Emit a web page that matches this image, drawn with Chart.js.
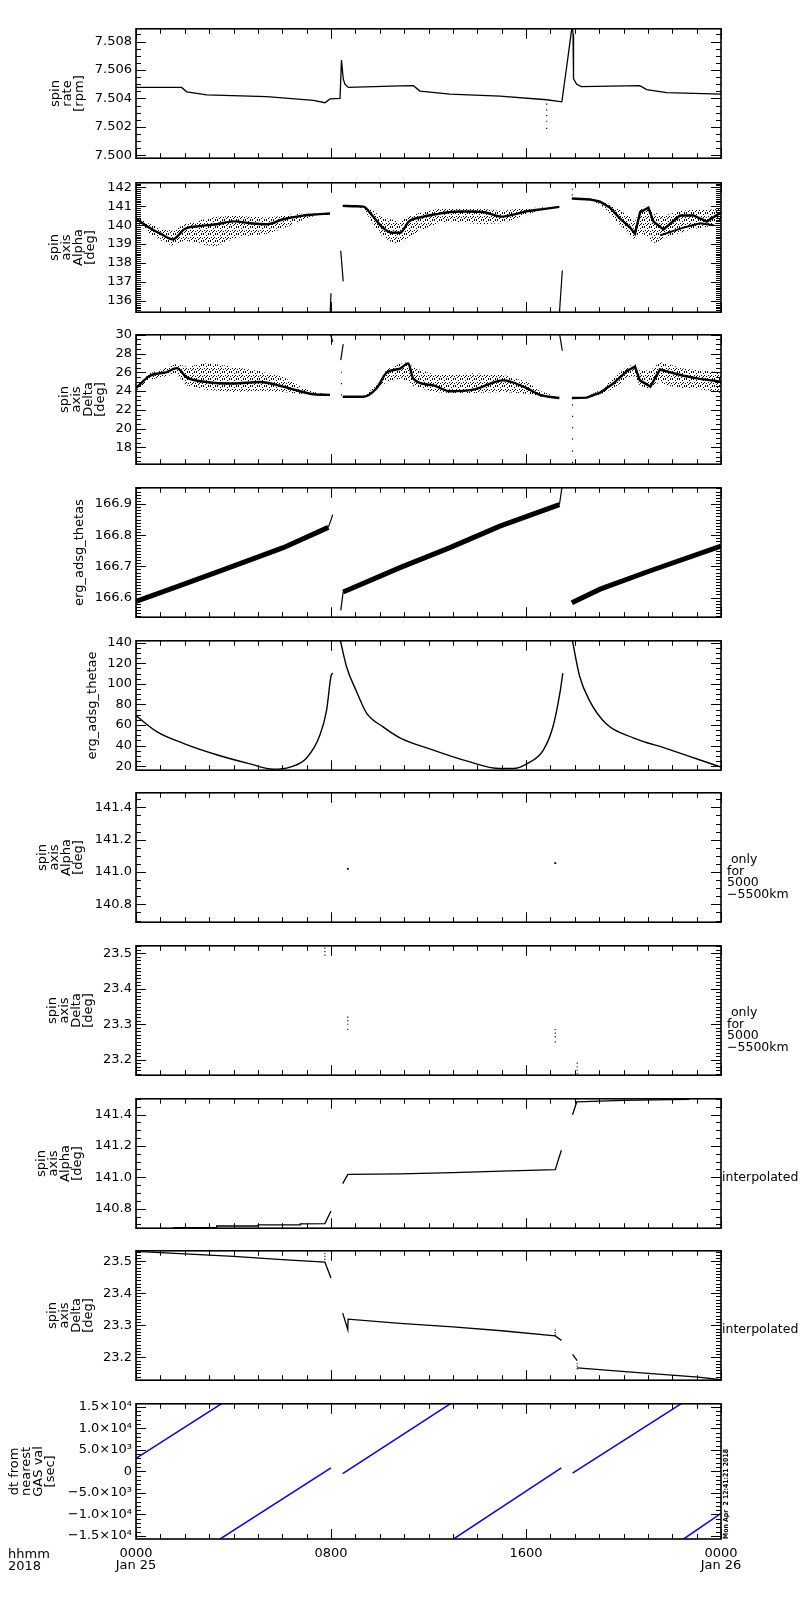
<!DOCTYPE html>
<html>
<head>
<meta charset="utf-8">
<script src="https://cdn.jsdelivr.net/npm/chart.js@4.4.1/dist/chart.umd.min.js"></script>
<style>
  body { margin: 0; background: #fff; }
  #wrap { position: relative; width: 800px; height: 1600px; }
  #wrap canvas { position: absolute; left: 0; }
</style>
</head>
<body>
<div id="wrap"></div>
<script>
// all x values are hours after 0000 Jan 25 2018

// spin rate [rpm]
const rateHours = [0, 1.87, 2.08, 2.9, 5.36, 7.28, 7.75, 7.96, 8.37, 8.43, 8.5, 8.57, 8.71, 10.83, 11.38, 11.65, 12.88, 14.93, 16.85, 17.47, 17.67, 17.9, 17.93, 17.95, 18.08, 18.28, 20.67, 20.95, 21.77, 24];
const rateVals = [7.50478, 7.50478, 7.50447, 7.50426, 7.50413, 7.50387, 7.5037, 7.50397, 7.504, 7.5067, 7.50539, 7.505, 7.50478, 7.50488, 7.5049, 7.50452, 7.5043, 7.50417, 7.50391, 7.50376, 7.50625, 7.5092, 7.50853, 7.50539, 7.505, 7.50483, 7.5049, 7.50462, 7.50441, 7.5043];
const rateDipHours = [16.85, 16.85, 16.85, 16.85, 16.85];
const rateDipVals = [7.5036, 7.5032, 7.5028, 7.5024, 7.5019];

// spin axis Alpha [deg]
const alpha1Hours = [0, 0.5, 1.0, 1.5, 2.0, 2.6, 3.3, 4.0, 4.7, 5.4, 6.0, 6.6, 7.2, 7.96];
const alpha1Core = [140.35, 139.9, 139.55, 139.25, 139.8, 139.95, 140.05, 140.2, 140.1, 140.05, 140.3, 140.45, 140.55, 140.62];
const alpha1Hi = [140.5, 140.1, 139.85, 139.7, 140.05, 140.25, 140.45, 140.5, 140.45, 140.4, 140.5, 140.6, 140.62, 140.64];
const alpha1Lo = [140.2, 139.6, 139.2, 138.9, 139.2, 139.0, 138.85, 139.3, 139.45, 139.55, 139.8, 140.15, 140.45, 140.6];
const alpha2Hours = [8.48, 9.0, 9.33, 9.7, 10.1, 10.5, 10.83, 11.2, 11.8, 12.4, 12.9, 13.6, 14.3, 15.0, 15.6, 16.1, 16.7, 17.37];
const alpha2Core = [141.02, 141.0, 140.98, 140.5, 139.9, 139.6, 139.6, 140.2, 140.45, 140.6, 140.7, 140.72, 140.68, 140.45, 140.6, 140.75, 140.85, 140.97];
const alpha2Hi = [141.03, 141.02, 141.0, 140.8, 140.4, 140.3, 140.2, 140.5, 140.7, 140.85, 140.9, 140.9, 140.85, 140.75, 140.85, 140.9, 140.95, 140.98];
const alpha2Lo = [141.0, 140.98, 140.9, 140.1, 139.4, 139.1, 139.0, 139.4, 139.8, 140.1, 140.2, 140.1, 140.05, 140.1, 140.35, 140.6, 140.8, 140.95];
const alpha3Hours = [17.88, 18.63, 19.04, 19.45, 19.86, 20.27, 20.47, 20.68, 21.02, 21.23, 21.64, 22.32, 22.87, 23.42, 24];
const alpha3Core = [141.41, 141.36, 141.24, 140.92, 140.35, 139.87, 139.54, 140.68, 140.92, 140.19, 139.78, 140.51, 140.51, 140.19, 140.68];
const alpha3Hi = [141.42, 141.38, 141.3, 141.1, 140.8, 140.4, 140.2, 140.9, 141.05, 140.7, 140.5, 140.75, 140.8, 140.8, 140.9];
const alpha3Lo = [141.4, 141.3, 141.1, 140.6, 140.0, 139.5, 139.2, 139.6, 139.4, 139.0, 139.3, 139.6, 139.8, 139.9, 140.2];
const alphaLow3Hours = [21.5, 22.46, 23.14, 23.69];
const alphaLow3Vals = [139.46, 139.87, 140.1, 140.0];
const alphaJumpAHours = [7.96, 8.0];
const alphaJumpAVals = [135.2, 136.4];
const alphaJumpBHours = [8.4, 8.5];
const alphaJumpBVals = [138.65, 137.03];
const alphaJumpCHours = [17.37, 17.49];
const alphaJumpCVals = [135.33, 137.6];
const alphaDotHours = [17.9, 17.9, 17.9];
const alphaDotVals = [142.2, 141.9, 141.6];

// spin axis Delta [deg]
const delta1Hours = [0, 0.57, 1.26, 1.67, 2.08, 2.9, 3.99, 5.08, 6.04, 6.73, 7.28, 7.96];
const delta1Core = [24.31, 25.63, 26.03, 26.45, 25.46, 24.97, 24.8, 24.97, 24.48, 23.98, 23.66, 23.59];
const delta1Hi = [24.6, 25.9, 26.5, 26.9, 26.6, 27.0, 26.6, 26.1, 25.5, 24.5, 23.9, 23.62];
const delta1Lo = [24.0, 25.2, 25.6, 25.8, 24.6, 24.1, 23.9, 24.0, 23.9, 23.7, 23.55, 23.55];
const delta2Hours = [8.48, 9.33, 9.87, 10.28, 10.83, 11.17, 11.38, 12.2, 12.88, 13.84, 15.07, 16.03, 16.57, 17.37];
const delta2Core = [23.4, 23.4, 24.3, 25.96, 26.4, 26.95, 25.3, 24.6, 23.98, 24.15, 25.14, 24.31, 23.59, 23.26];
const delta2Hi = [23.45, 23.45, 24.6, 26.3, 26.9, 27.1, 26.5, 25.8, 25.8, 25.9, 25.7, 25.0, 24.0, 23.3];
const delta2Lo = [23.35, 23.35, 24.0, 25.0, 25.3, 25.0, 24.5, 23.9, 23.8, 23.8, 23.9, 23.7, 23.4, 23.22];
const delta3Hours = [17.88, 18.49, 19.04, 19.58, 20.13, 20.47, 20.67, 21.1, 21.5, 21.77, 22.46, 23.14, 24];
const delta3Core = [23.26, 23.3, 23.82, 24.8, 26.12, 26.62, 25.14, 24.48, 26.3, 26.1, 25.63, 25.3, 25.0];
const delta3Hi = [23.3, 23.4, 24.1, 25.3, 26.6, 26.9, 26.2, 26.2, 27.1, 26.9, 26.4, 26.2, 26.0];
const delta3Lo = [23.2, 23.25, 23.6, 24.3, 25.3, 25.6, 24.6, 24.2, 25.0, 24.6, 24.3, 24.2, 23.8];
const deltaJumpAHours = [7.96, 8.07];
const deltaJumpAVals = [30.2, 29.24];
const deltaJumpBHours = [8.4, 8.5];
const deltaJumpBVals = [27.3, 29.0];
const deltaJumpCHours = [17.37, 17.49];
const deltaJumpCVals = [30.2, 28.3];
const deltaDotHours = [8.43, 8.43, 8.43, 17.91, 17.91, 17.91, 17.91, 17.91, 17.91];
const deltaDotVals = [23.6, 24.8, 26.0, 22.5, 21.3, 20.1, 18.9, 17.6, 16.4];

// erg_adsg_thetas
const thetas1Hours = [0, 1.94, 3.99, 6.04, 7.89];
const thetas1Vals = [166.588, 166.642, 166.701, 166.76, 166.825];
const thetasJump1Hours = [7.89, 8.0, 8.07];
const thetasJump1Vals = [166.825, 166.849, 166.866];
const thetasJump2Hours = [8.4, 8.5];
const thetasJump2Vals = [166.559, 166.618];
const thetas2Hours = [8.5, 10.83, 12.88, 14.93, 17.37];
const thetas2Vals = [166.618, 166.696, 166.76, 166.829, 166.898];
const thetasJump3Hours = [17.37, 17.47, 17.52];
const thetasJump3Vals = [166.898, 166.95, 166.99];
const thetas3Hours = [17.88, 19.04, 21.1, 24];
const thetas3Vals = [166.583, 166.627, 166.686, 166.765];

// erg_adsg_thetae
const thetae1Hours = [0, 0.85, 1.94, 3.31, 4.68, 5.63, 6.32, 7.0, 7.55, 7.82, 8.0, 8.07];
const thetae1Vals = [69.1, 53.6, 42.2, 31.1, 22.2, 17.0, 19.1, 28, 50.5, 74.5, 107.4, 110.4];
const thetae2Hours = [8.38, 8.64, 9.05, 9.46, 10.15, 10.83, 12.2, 13.56, 14.93, 15.48, 16.03, 16.71, 17.12, 17.4, 17.51];
const thetae2Vals = [142.5, 116.4, 92.4, 71.5, 58, 47.6, 35.6, 25.1, 17.7, 17.7, 22.2, 35.6, 59.5, 92.4, 110.4];
const thetae3Hours = [17.9, 18.2, 18.61, 19.3, 20.4, 21.77, 23.14, 24];
const thetae3Vals = [142.5, 107.4, 83.5, 61, 47.6, 37.1, 26.0, 19.1];

// spin axis Alpha, only for 5000-5500km
const alphaOnlyHours = [8.69, 17.2];
const alphaOnlyVals = [141.02, 141.055];

// spin axis Delta, only for 5000-5500km
const deltaOnlyHours = [7.75, 7.75, 7.75, 8.69, 8.69, 8.69, 8.69, 17.2, 17.2, 17.2, 17.2, 18.1, 18.1, 18.1, 18.1];
const deltaOnlyVals = [23.515, 23.505, 23.495, 23.32, 23.31, 23.3, 23.285, 23.285, 23.275, 23.265, 23.25, 23.19, 23.18, 23.17, 23.16];

// spin axis Alpha, interpolated
const alphaInt1Hours = [1.53, 3.3, 3.31, 5.0, 5.01, 6.73, 6.74, 7.75, 8.0];
const alphaInt1Vals = [140.68, 140.68, 140.69, 140.69, 140.697, 140.697, 140.704, 140.705, 140.785];
const alphaInt2Hours = [8.48, 8.69, 10.83, 13.0, 15.0, 17.2, 17.45];
const alphaInt2Vals = [140.96, 141.019, 141.022, 141.03, 141.04, 141.049, 141.172];
const alphaInt3Hours = [17.91, 18.08, 20.0, 22.7];
const alphaInt3Vals = [141.398, 141.48, 141.49, 141.496];

// spin axis Delta, interpolated
const deltaInt1Hours = [0, 2.0, 4.0, 6.0, 7.75, 8.0];
const deltaInt1Vals = [23.531, 23.523, 23.515, 23.505, 23.497, 23.448];
const deltaInt2Hours = [8.48, 8.69, 8.7, 10.83, 13.0, 15.0, 17.2, 17.45];
const deltaInt2Vals = [23.338, 23.286, 23.319, 23.306, 23.295, 23.283, 23.267, 23.253];
const deltaInt3Hours = [17.91, 18.1];
const deltaInt3Vals = [23.209, 23.19];
const deltaInt4Hours = [18.1, 20.33, 23.07, 24];
const deltaInt4Vals = [23.167, 23.154, 23.138, 23.13];
const deltaIntDotHours = [7.75, 7.75, 7.75, 17.2, 17.2, 17.2, 18.1, 18.1, 18.1];
const deltaIntDotVals = [23.524, 23.515, 23.506, 23.285, 23.277, 23.27, 23.18, 23.172, 23.164];

// dt from nearest GAS val [sec]
const dtAHours = [0, 3.53];
const dtAVals = [3000, 15800];
const dtBHours = [3.42, 8.0];
const dtBVals = [-15800, 800];
const dtCHours = [8.48, 12.92];
const dtCVals = [-530, 15800];
const dtDHours = [13.0, 17.45];
const dtDVals = [-15800, 800];
const dtEHours = [17.91, 22.39];
const dtEVals = [-376, 15800];
const dtFHours = [22.44, 24];
const dtFVals = [-15800, -9735];

// x axis labels
const majorHours = [0, 8, 16, 24];
const majorLabels = [['0000', 'Jan 25'], '0800', '1600', ['0000', 'Jan 26']];

Chart.defaults.font.family = '"DejaVu Sans", sans-serif';
Chart.defaults.font.size = 13;
Chart.defaults.color = '#000';

// stipple pattern for the scattered bands
const pat = document.createElement('canvas');
pat.width = 7; pat.height = 7;
const pctx = pat.getContext('2d');
pctx.fillStyle = '#000';
[[0, 0], [3, 1], [5, 0], [1, 3], [4, 3], [6, 4], [2, 5], [5, 6], [0, 6], [3, 4]].forEach(p => pctx.fillRect(p[0], p[1], 1, 1));
const stipple = pctx.createPattern(pat, 'repeat');

function xy(hours, vals) {
  return hours.map((h, i) => ({ x: h, y: vals[i] }));
}
function line(hours, vals, w, color) {
  return { data: xy(hours, vals), borderColor: color || '#000', borderWidth: w || 1.2, pointRadius: 0, fill: false };
}
function curve(hours, vals, w) {
  const d = line(hours, vals, w);
  d.cubicInterpolationMode = 'monotone';
  return d;
}
function dots(hours, vals, r) {
  return { data: xy(hours, vals), showLine: false, pointRadius: r || 1, pointStyle: 'rect', backgroundColor: '#000', borderWidth: 0 };
}
function band(hours, lo, hi) {
  return [
    { data: xy(hours, lo), borderWidth: 0, pointRadius: 0, fill: false },
    { data: xy(hours, hi), borderWidth: 0, pointRadius: 0, fill: '-1', backgroundColor: stipple }
  ];
}

const fix = d => v => v.toFixed(d);
const sci = v => {
  const map = { 15000: '1.5\u00d710\u2074', 10000: '1.0\u00d710\u2074', 5000: '5.0\u00d710\u00b3', 0: '0',
    '-5000': '\u22125.0\u00d710\u00b3', '-10000': '\u22121.0\u00d710\u2074', '-15000': '\u22121.5\u00d710\u2074' };
  return map[Math.round(v)] || '';
};

const onlyText = [' only', 'for', '5000', '\u22125500km'];

const panels = [
  { top: 23, min: 7.4998, max: 7.5089, step: 0.0005, every: 4, fmt: fix(3), title: ['spin', 'rate', '[rpm]'], titleX: 56,
    datasets: [line(rateHours, rateVals, 1.3), dots(rateDipHours, rateDipVals, 0.8)] },
  { top: 177, min: 135.4, max: 142.24, step: 0.1, every: 10, fmt: fix(0), title: ['spin', 'axis', 'Alpha', '[deg]'], titleX: 55,
    datasets: [
      curve(alpha1Hours, alpha1Core, 2.4), ...band(alpha1Hours, alpha1Lo, alpha1Hi),
      curve(alpha2Hours, alpha2Core, 2.4), ...band(alpha2Hours, alpha2Lo, alpha2Hi),
      line(alpha3Hours, alpha3Core, 2.4), ...band(alpha3Hours, alpha3Lo, alpha3Hi),
      line(alphaLow3Hours, alphaLow3Vals, 2),
      line(alphaJumpAHours, alphaJumpAVals, 1.2), line(alphaJumpBHours, alphaJumpBVals, 1.2),
      line(alphaJumpCHours, alphaJumpCVals, 1.2), dots(alphaDotHours, alphaDotVals, 0.8)] },
  { top: 329, min: 16.2, max: 30.0, step: 0.5, every: 4, fmt: fix(0), title: ['spin', 'axis', 'Delta', '[deg]'], titleX: 65,
    datasets: [
      curve(delta1Hours, delta1Core, 2.4), ...band(delta1Hours, delta1Lo, delta1Hi),
      curve(delta2Hours, delta2Core, 2.4), ...band(delta2Hours, delta2Lo, delta2Hi),
      line(delta3Hours, delta3Core, 2.4), ...band(delta3Hours, delta3Lo, delta3Hi),
      line(deltaJumpAHours, deltaJumpAVals, 1.2), line(deltaJumpBHours, deltaJumpBVals, 1.2),
      line(deltaJumpCHours, deltaJumpCVals, 1.2), dots(deltaDotHours, deltaDotVals, 0.8)] },
  { top: 482, min: 166.537, max: 166.952, step: 0.01, every: 10, fmt: fix(1), title: 'erg_adsg_thetas', titleX: 80,
    datasets: [
      line(thetas1Hours, thetas1Vals, 5), line(thetasJump1Hours, thetasJump1Vals, 1.2),
      line(thetasJump2Hours, thetasJump2Vals, 1.2), line(thetas2Hours, thetas2Vals, 5),
      line(thetasJump3Hours, thetasJump3Vals, 1.2), line(thetas3Hours, thetas3Vals, 5)] },
  { top: 635, min: 16.1, max: 141.8, step: 5, every: 4, fmt: fix(0), title: 'erg_adsg_thetae', titleX: 93,
    datasets: [curve(thetae1Hours, thetae1Vals, 1.4), curve(thetae2Hours, thetae2Vals, 1.4), curve(thetae3Hours, thetae3Vals, 1.4)] },
  { top: 787, min: 140.69, max: 141.49, step: 0.05, every: 4, fmt: fix(1), title: ['spin', 'axis', 'Alpha', '[deg]'], titleX: 43,
    side: onlyText, sideY: 67,
    datasets: [dots(alphaOnlyHours, alphaOnlyVals, 1.3)] },
  { top: 940, min: 23.156, max: 23.5215, step: 0.01, every: 10, fmt: fix(1), title: ['spin', 'axis', 'Delta', '[deg]'], titleX: 53,
    side: onlyText, sideY: 67,
    datasets: [dots(deltaOnlyHours, deltaOnlyVals, 0.8)] },
  { top: 1093, min: 140.676, max: 141.5, step: 0.05, every: 4, fmt: fix(1), title: ['spin', 'axis', 'Alpha', '[deg]'], titleX: 42,
    side: ['interpolated'], sideY: 79,
    datasets: [line(alphaInt1Hours, alphaInt1Vals, 1.3), line(alphaInt2Hours, alphaInt2Vals, 1.3), line(alphaInt3Hours, alphaInt3Vals, 1.3)] },
  { top: 1245, min: 23.1286, max: 23.5326, step: 0.01, every: 10, fmt: fix(1), title: ['spin', 'axis', 'Delta', '[deg]'], titleX: 53,
    side: ['interpolated'], sideY: 79,
    datasets: [line(deltaInt1Hours, deltaInt1Vals, 1.3), line(deltaInt2Hours, deltaInt2Vals, 1.3), line(deltaInt3Hours, deltaInt3Vals, 1.3),
      line(deltaInt4Hours, deltaInt4Vals, 1.3), dots(deltaIntDotHours, deltaIntDotVals, 0.8)] },
  { top: 1398, min: -15700, max: 15700, step: 1000, every: 5, fmt: sci, title: ['dt from', 'nearest', 'GAS val', '[sec]'], titleX: 15,
    last: true,
    datasets: [line(dtAHours, dtAVals, 1.5, '#0000ff'), line(dtBHours, dtBVals, 1.5, '#0000ff'), line(dtCHours, dtCVals, 1.5, '#0000ff'),
      line(dtDHours, dtDVals, 1.5, '#0000ff'), line(dtEHours, dtEVals, 1.5, '#0000ff'), line(dtFHours, dtFVals, 1.5, '#0000ff')] }
];

const PANEL_H = 141, PAD = 6, XLAB_H = 44;

// frame, inward ticks on all four sides, and the texts outside the axes
const idlFrame = {
  id: 'idlFrame',
  afterDraw(chart, args, opts) {
    const { ctx, chartArea: a, scales: { x, y } } = chart;
    ctx.save();
    ctx.strokeStyle = '#000';
    ctx.lineWidth = 1;
    ctx.beginPath();
    for (let h = 0; h <= 24; h++) {
      const px = Math.round(x.getPixelForValue(h)) + 0.5;
      const len = h % 8 === 0 ? 10 : 5;
      ctx.moveTo(px, a.bottom); ctx.lineTo(px, a.bottom - len);
      ctx.moveTo(px, a.top); ctx.lineTo(px, a.top + len);
    }
    y.ticks.forEach(t => {
      const py = Math.round(y.getPixelForValue(t.value)) + 0.5;
      const len = t.major ? 10 : 5;
      ctx.moveTo(a.left, py); ctx.lineTo(a.left + len, py);
      ctx.moveTo(a.right, py); ctx.lineTo(a.right - len, py);
    });
    ctx.stroke();
    ctx.lineWidth = 1.6;
    ctx.strokeRect(a.left, a.top, a.right - a.left, a.bottom - a.top);

    ctx.fillStyle = '#000';
    ctx.textBaseline = 'middle';
    ctx.textAlign = 'left';
    if (opts.side) {
      ctx.font = '12.5px "DejaVu Sans"';
      const x0 = opts.side.length > 1 ? 727 : 722;
      opts.side.forEach((s, i) => ctx.fillText(s, x0, a.top + opts.sideY + i * 11.5));
    }
    if (opts.last) {
      ctx.font = '13px "DejaVu Sans"';
      ctx.fillText('hhmm', 8, a.bottom + 16);
      ctx.fillText('2018', 8, a.bottom + 28);
      ctx.save();
      ctx.translate(726, a.bottom);
      ctx.rotate(-Math.PI / 2);
      ctx.font = 'bold 7px "DejaVu Sans"';
      ctx.fillText('Mon Apr  2 12:41:21 2018', 0, 0, 90);
      ctx.restore();
    }
    ctx.restore();
  }
};

const wrap = document.getElementById('wrap');

panels.forEach(p => {
  const canvas = document.createElement('canvas');
  const h = PAD + PANEL_H + PAD + (p.last ? XLAB_H : 0);
  canvas.width = 800;
  canvas.height = h;
  canvas.style.top = (p.top - PAD) + 'px';
  wrap.appendChild(canvas);

  new Chart(canvas.getContext('2d'), {
    type: 'line',
    data: { datasets: p.datasets },
    plugins: [idlFrame],
    options: {
      responsive: false,
      animation: false,
      layout: { padding: { top: PAD, bottom: PAD, left: 0, right: 79 } },
      plugins: {
        legend: { display: false },
        tooltip: { enabled: false },
        idlFrame: { side: p.side, sideY: p.sideY, last: !!p.last }
      },
      elements: { line: { tension: 0 } },
      scales: {
        x: {
          type: 'linear', min: 0, max: 24, display: !!p.last,
          grid: { display: false, drawTicks: false },
          border: { display: false },
          ticks: {
            autoSkip: false, maxRotation: 0, padding: 9,
            font: { size: 13, lineHeight: '12px' },
            callback: (v) => {
              const i = majorHours.indexOf(v);
              return i >= 0 ? majorLabels[i] : '';
            }
          },
          afterBuildTicks: s => {
            const out = [];
            for (let hr = 0; hr <= 24; hr++) out.push({ value: hr, major: hr % 8 === 0 });
            s.ticks = out;
          },
          afterFit: s => { if (p.last) s.height = XLAB_H; }
        },
        y: {
          type: 'linear', min: p.min, max: p.max,
          grid: { display: false, drawTicks: false },
          border: { display: false },
          ticks: {
            autoSkip: false, padding: 4,
            callback: (v, i, ticks) => (ticks[i] && ticks[i].major) ? p.fmt(v) : ''
          },
          title: {
            display: true, text: p.title,
            font: { size: 13, lineHeight: '12px' },
            padding: { top: p.titleX - 6, bottom: 0 }
          },
          afterBuildTicks: s => {
            const out = [];
            for (let k = Math.ceil(p.min / p.step - 1e-9); k * p.step <= p.max + 1e-9; k++) {
              out.push({ value: +(k * p.step).toFixed(6), major: k % p.every === 0 });
            }
            s.ticks = out;
          },
          afterFit: s => { s.width = 136; }
        }
      }
    }
  });
});
</script>
</body>
</html>
